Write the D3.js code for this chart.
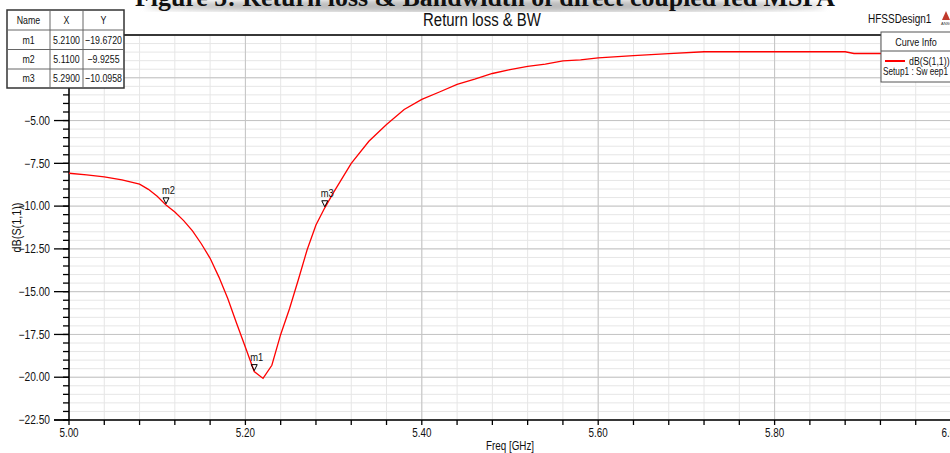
<!DOCTYPE html>
<html>
<head>
<meta charset="utf-8">
<script src="https://cdn.jsdelivr.net/npm/d3@7"></script>
<style>
  body { margin: 0; background: #fff; overflow: hidden; }
  svg { display: block; font-family: "Liberation Sans", Arial, sans-serif; }
</style>
</head>
<body>
<svg id="chart"></svg>
<script>
// S11 sweep (GHz, dB)
const freq = [5.00, 5.02, 5.04, 5.06, 5.08, 5.09, 5.10, 5.11, 5.12, 5.13, 5.14, 5.15, 5.16, 5.17, 5.18, 5.19,
              5.20, 5.21, 5.22, 5.23, 5.24, 5.25, 5.26, 5.27, 5.28, 5.29, 5.30, 5.32, 5.34, 5.36, 5.38,
              5.40, 5.42, 5.44, 5.46, 5.48, 5.50, 5.52, 5.54, 5.56, 5.58, 5.60, 5.64, 5.68, 5.72, 5.76,
              5.80, 5.84, 5.88, 5.89, 5.92, 5.96, 6.00];
const s11 = [-8.08, -8.17, -8.29, -8.47, -8.72, -9.02, -9.42, -9.93, -10.35, -10.85, -11.45, -12.20, -13.05, -14.15, -15.40, -16.85,
             -18.25, -19.67, -20.07, -19.30, -17.50, -16.00, -14.30, -12.55, -11.10, -10.10, -9.20, -7.50, -6.21, -5.23, -4.35,
             -3.76, -3.33, -2.88, -2.58, -2.25, -2.02, -1.83, -1.70, -1.51, -1.45, -1.34, -1.21, -1.09, -0.98, -0.98,
             -0.98, -0.98, -0.98, -1.08, -1.08, -1.08, -1.08];

// marker table
const markerNames = ["m1", "m2", "m3"];
const markerX = [5.21, 5.11, 5.29];
const markerY = [-19.6720, -9.9255, -10.0958];

const xTicks = [5.0, 5.2, 5.4, 5.6, 5.8, 6.0];
const yTicks = [0, -2.5, -5, -7.5, -10, -12.5, -15, -17.5, -20, -22.5];

const W = 950, H = 453;
const svg = d3.select("#chart").attr("width", W).attr("height", H);

const x = d3.scaleLinear().domain([5, 6]).range([69, 951]);
const y = d3.scaleLinear().domain([-22.5, 0]).range([420, 35]);

// squeeze text to look like Arial Narrow
function narrow(sel, k = 0.82) {
    sel.each(function () {
        const w = this.getComputedTextLength();
        d3.select(this).attr("textLength", w * k).attr("lengthAdjust", "spacingAndGlyphs");
    });
    return sel;
}

// clipped figure caption with its shadow
const defs = svg.append("defs");
defs.append("filter").attr("id", "blur")
    .attr("x", "-20%").attr("y", "-100%").attr("width", "140%").attr("height", "300%")
    .append("feGaussianBlur").attr("stdDeviation", 3);
svg.append("ellipse")
    .attr("cx", 485).attr("cy", 6).attr("rx", 340).attr("ry", 6)
    .attr("fill", "#b8b8b8").attr("filter", "url(#blur)");
svg.append("text")
    .attr("x", 485).attr("y", 6)
    .attr("text-anchor", "middle")
    .style("font-family", "'Liberation Serif', 'Times New Roman', serif")
    .style("font-weight", "bold")
    .style("font-size", "25px")
    .attr("fill", "#111")
    .attr("textLength", 700).attr("lengthAdjust", "spacingAndGlyphs")
    .text("Figure 5: Return loss & Bandwidth of direct coupled fed MSPA");

// white plot area
svg.append("rect")
    .attr("x", 0).attr("y", 12).attr("width", W).attr("height", H - 12)
    .attr("fill", "#fff");

// minor grid
const xMinor = d3.range(0, 26).map(i => 5 + i * 0.04);
const yMinor = d3.range(0, 46).map(i => -i * 0.5);
const grid = svg.append("g");
grid.selectAll(".xm").data(xMinor).join("line")
    .attr("x1", d => x(d)).attr("x2", d => x(d))
    .attr("y1", y(0)).attr("y2", y(-22.5))
    .attr("stroke", "#e6e6e6").attr("stroke-width", 1);
grid.selectAll(".ym").data(yMinor).join("line")
    .attr("x1", x(5)).attr("x2", W)
    .attr("y1", d => y(d)).attr("y2", d => y(d))
    .attr("stroke", "#e6e6e6").attr("stroke-width", 1);
// major grid
grid.selectAll(".xM").data(xTicks).join("line")
    .attr("x1", d => x(d)).attr("x2", d => x(d))
    .attr("y1", y(0)).attr("y2", y(-22.5))
    .attr("stroke", "#c4c4c4").attr("stroke-width", 1);
grid.selectAll(".yM").data(yTicks).join("line")
    .attr("x1", x(5)).attr("x2", W)
    .attr("y1", d => y(d)).attr("y2", d => y(d))
    .attr("stroke", "#c4c4c4").attr("stroke-width", 1);

// frame
svg.append("line")
    .attr("x1", x(5)).attr("x2", W).attr("y1", y(0)).attr("y2", y(0))
    .attr("stroke", "#000").attr("stroke-width", 1.5);

// y axis
const yAxis = svg.append("g").attr("transform", `translate(${x(5)},0)`);
yAxis.append("line").attr("y1", y(0)).attr("y2", y(-22.5))
    .attr("stroke", "#000").attr("stroke-width", 1.5);
yAxis.selectAll(".ymt").data(yMinor).join("line")
    .attr("x1", -6).attr("x2", 0)
    .attr("y1", d => y(d)).attr("y2", d => y(d))
    .attr("stroke", "#000").attr("stroke-width", 1.3);
yAxis.selectAll(".yMt").data(yTicks).join("line")
    .attr("x1", -15).attr("x2", 0)
    .attr("y1", d => y(d)).attr("y2", d => y(d))
    .attr("stroke", "#000").attr("stroke-width", 1.3);
yAxis.selectAll("text").data(yTicks).join("text")
    .attr("x", -19).attr("y", d => y(d)).attr("dy", "0.35em")
    .attr("text-anchor", "end")
    .style("font-size", "12px")
    .attr("fill", "#111")
    .text(d => d3.format(".2f")(d))
    .call(narrow, 0.85);

svg.append("text")
    .attr("transform", `translate(21,${y(-11.25)}) rotate(-90)`)
    .attr("text-anchor", "middle")
    .style("font-size", "12px")
    .attr("fill", "#111")
    .text("dB(S(1,1))")
    .call(narrow, 0.9);

// x axis
const xAxis = svg.append("g").attr("transform", `translate(0,${y(-22.5)})`);
xAxis.append("line").attr("x1", 54).attr("x2", W)
    .attr("stroke", "#000").attr("stroke-width", 1.5);
xAxis.selectAll(".xmt").data(xMinor).join("line")
    .attr("x1", d => x(d)).attr("x2", d => x(d))
    .attr("y1", 0).attr("y2", 5)
    .attr("stroke", "#000").attr("stroke-width", 1.3);
xAxis.selectAll("text").data(xTicks).join("text")
    .attr("x", d => x(d)).attr("y", 17)
    .attr("text-anchor", "middle")
    .style("font-size", "12px")
    .attr("fill", "#111")
    .text(d => d3.format(".2f")(d))
    .call(narrow, 0.82);

svg.append("text")
    .attr("x", 510).attr("y", 450)
    .attr("text-anchor", "middle")
    .style("font-size", "12px")
    .attr("fill", "#111")
    .text("Freq [GHz]")
    .call(narrow, 0.82);

// curve
const line = d3.line().x((d, i) => x(freq[i])).y(d => y(d));
svg.append("path")
    .datum(s11)
    .attr("d", line)
    .attr("fill", "none")
    .attr("stroke", "#ff0000")
    .attr("stroke-width", 1.3);

// markers
const mk = svg.append("g").selectAll("g").data(markerNames).join("g")
    .attr("transform", (d, i) => `translate(${x(markerX[i])},${y(markerY[i])})`);
mk.append("path")
    .attr("d", "M-3,-7 L3,-7 L0,-1 Z")
    .attr("fill", "none").attr("stroke", "#000").attr("stroke-width", 1);
mk.append("text")
    .attr("x", -4).attr("y", -11)
    .style("font-size", "11px")
    .attr("fill", "#111")
    .text(d => d)
    .call(narrow, 0.85);

// title and design name
svg.append("text")
    .attr("x", 482).attr("y", 26)
    .attr("text-anchor", "middle")
    .style("font-size", "18px")
    .attr("fill", "#111")
    .text("Return loss & BW")
    .call(narrow, 0.83);
svg.append("text")
    .attr("x", 868).attr("y", 23)
    .style("font-size", "13px")
    .attr("fill", "#111")
    .text("HFSSDesign1")
    .call(narrow, 0.77);
svg.append("path")
    .attr("d", "M946,11 L950,20 L942,20 Z")
    .attr("fill", "#c0392b");
svg.append("text")
    .attr("x", 941).attr("y", 25)
    .style("font-size", "4px")
    .attr("fill", "#333")
    .text("ANSOFT");

// curve info box
const leg = svg.append("g").attr("transform", "translate(881,32)");
leg.append("rect")
    .attr("x", 0).attr("y", 0).attr("width", 80).attr("height", 50)
    .attr("fill", "#fff").attr("stroke", "#555").attr("stroke-width", 1);
leg.append("line").attr("x1", 0).attr("x2", 80).attr("y1", 19).attr("y2", 19)
    .attr("stroke", "#555");
leg.append("text")
    .attr("x", 35).attr("y", 14).attr("text-anchor", "middle")
    .style("font-size", "11px").attr("fill", "#111")
    .text("Curve Info")
    .call(narrow, 0.82);
leg.append("line").attr("x1", 4).attr("x2", 24).attr("y1", 29).attr("y2", 29)
    .attr("stroke", "#ff0000").attr("stroke-width", 2);
leg.append("text")
    .attr("x", 28).attr("y", 33)
    .style("font-size", "11px").attr("fill", "#111")
    .text("dB(S(1,1))")
    .call(narrow, 0.8);
leg.append("text")
    .attr("x", 2).attr("y", 43)
    .style("font-size", "11px").attr("fill", "#111")
    .attr("textLength", 65).attr("lengthAdjust", "spacingAndGlyphs")
    .text("Setup1 : Sw eep1");

// marker table
const colX = [7, 50, 83, 124];
const rowY = [10, 30, 49.5, 69, 88];
const tbl = svg.append("g");
tbl.append("rect")
    .attr("x", colX[0]).attr("y", rowY[0])
    .attr("width", colX[3] - colX[0]).attr("height", rowY[4] - rowY[0])
    .attr("fill", "#fff").attr("stroke", "#333").attr("stroke-width", 1.5);
tbl.selectAll(".cv").data(colX.slice(1, 3)).join("line")
    .attr("x1", d => d).attr("x2", d => d).attr("y1", rowY[0]).attr("y2", rowY[4])
    .attr("stroke", "#666");
tbl.selectAll(".rh").data(rowY.slice(1, 4)).join("line")
    .attr("x1", colX[0]).attr("x2", colX[3]).attr("y1", d => d).attr("y2", d => d)
    .attr("stroke", "#666");
const cellRows = [["Name", "X", "Y"]].concat(
    markerNames.map((n, i) => [n, d3.format(".4f")(markerX[i]), d3.format(".4f")(markerY[i])]));
cellRows.forEach((row, r) => {
    row.forEach((txt, c) => {
        tbl.append("text")
            .attr("x", (colX[c] + colX[c + 1]) / 2)
            .attr("y", (rowY[r] + rowY[r + 1]) / 2)
            .attr("dy", "0.35em")
            .attr("text-anchor", "middle")
            .style("font-size", "11px")
            .attr("fill", "#111")
            .text(txt)
            .call(narrow, 0.8);
    });
});
</script>
</body>
</html>
